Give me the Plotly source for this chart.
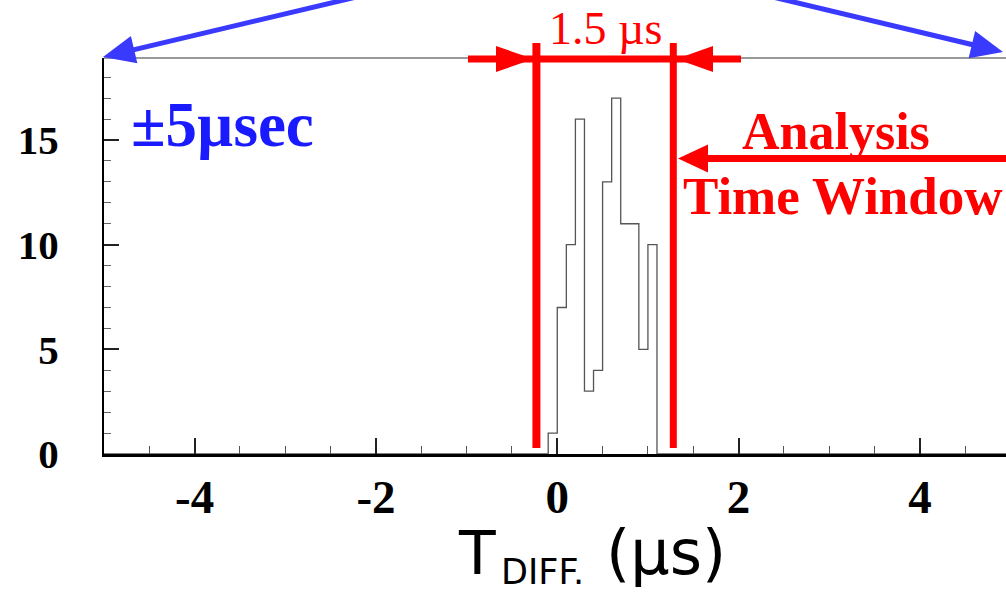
import plotly.graph_objects as go

# ---------------- data ----------------
bin_edges = [-0.1, 0.0, 0.1, 0.2, 0.3, 0.4, 0.5, 0.6, 0.7, 0.8, 0.9, 1.0, 1.1]
bin_counts = [1, 7, 10, 16, 3, 4, 13, 17, 11, 11, 5, 10]
x_range = [-5.0, 4.95]
y_range = [0.0, 18.92]
xtick_vals = [-4, -2, 0, 2, 4]
xtick_text = ["-4", "-2", "0", "2", "4"]
ytick_vals = [0, 5, 10, 15]
ytick_text = ["0", "5", "10", "15"]
window_start = -0.23
window_end = 1.28

# ---------------- layout geometry ----------------
W, H = 1006, 593
ML, MR, MT, MB = 104, 0, 58, 139
PW = W - ML - MR
PH = H - MT - MB

def px(xpix):
    return (xpix - ML) / PW

def py(ypix):
    return (MT + PH - ypix) / PH

def data_to_px(v):
    return ML + (v - x_range[0]) / (x_range[1] - x_range[0]) * PW

# step outline
hx = [x_range[0]] + bin_edges + [x_range[1]]
hy = [0] + bin_counts + [0, 0]

fig = go.Figure()
fig.add_trace(go.Scatter(
    x=hx, y=hy, mode="lines",
    line=dict(color="#555555", width=1.3, shape="hv"),
    hoverinfo="skip", showlegend=False,
))

RED = "#ff0000"
BLUE_T = "#1a1aff"
BLUE_A = "#3a3aff"

shapes = []
annotations = []

def line(x0, y0, x1, y1, color, width):
    shapes.append(dict(type="line", xref="paper", yref="paper",
                       x0=px(x0), y0=py(y0), x1=px(x1), y1=py(y1),
                       line=dict(color=color, width=width), layer="above"))

def tri(p1, p2, p3, color):
    path = "M {} {} L {} {} L {} {} Z".format(px(p1[0]), py(p1[1]), px(p2[0]), py(p2[1]), px(p3[0]), py(p3[1]))
    shapes.append(dict(type="path", xref="paper", yref="paper", path=path,
                       fillcolor=color, line=dict(color=color, width=0), layer="above"))

def arrow(tail, tip, color, width, hl, hw):
    dx, dy = tip[0] - tail[0], tip[1] - tail[1]
    L = (dx * dx + dy * dy) ** 0.5
    ux, uy = dx / L, dy / L
    bx, by = tip[0] - hl * ux, tip[1] - hl * uy
    nx, ny = -uy, ux
    line(tail[0], tail[1], bx + ux * 2, by + uy * 2, color, width)
    tri(tip, (bx + hw * nx, by + hw * ny), (bx - hw * nx, by - hw * ny), color)

# top frame line
line(ML, MT, W, MT, "#777777", 1.5)

# window vertical lines
xl = data_to_px(window_start)
xr = data_to_px(window_end)
line(xl, 448, xl, 43, RED, 8)
line(xr, 448, xr, 43, RED, 7)
# horizontal window bar with inward arrows
line(468, 59, 741, 59, RED, 7)
tri((xl - 3, 59), (496, 46), (496, 72), RED)
tri((xr + 3, 59), (713, 46), (713, 72), RED)
# Analysis arrow
arrow((1010, 158.5), (678, 158.5), RED, 7, 30, 14)
# blue arrows
arrow((555, -50), (103, 57), BLUE_A, 5, 32, 14)
arrow((555, -55), (1003, 52), BLUE_A, 5, 32, 14)

def text(s, x, baseline, size, color, family, bold=False, xanchor="center", desc=0.216):
    ybot = baseline + desc * size + 1
    annotations.append(dict(
        text=s, xref="paper", yref="paper", x=px(x), y=py(ybot),
        xanchor=xanchor, yanchor="bottom", showarrow=False,
        font=dict(family=family, size=size, color=color, weight="bold" if bold else "normal"),
    ))

SERIF = "Liberation Serif"
SANS = "DejaVu Sans"
text("1.5 µs", 605, 45, 46, RED, SERIF)
text("Analysis", 836, 150, 52, RED, SERIF, bold=True)
text("Time Window", 843, 215, 53, RED, SERIF, bold=True)
text("±5µsec", 129, 147, 63, BLUE_T, SERIF, bold=True, xanchor="left")
text("T", 456, 575, 60, "black", SANS, xanchor="left", desc=0.236)
text("DIFF.", 499, 585, 35, "black", SANS, xanchor="left", desc=0.236)
text("(µs)", 604, 575, 62, "black", SANS, xanchor="left", desc=0.236)

fig.update_layout(
    width=W, height=H,
    margin=dict(l=ML, r=MR, t=MT, b=MB),
    paper_bgcolor="white", plot_bgcolor="white",
    shapes=shapes, annotations=annotations,
    xaxis=dict(
        range=x_range, showgrid=False, zeroline=False,
        tickmode="array", tickvals=xtick_vals, ticktext=xtick_text,
        ticks="inside", ticklen=16, tickwidth=1.5, tickcolor="#222222",
        showline=True, linecolor="black", linewidth=2.5,
        minor=dict(dtick=0.5, tick0=0, ticks="inside", ticklen=8, tickwidth=1.2,
                   tickcolor="#555555", showgrid=False),
        tickfont=dict(family=SERIF, size=47, color="black", weight="bold"),
        ticklabelstandoff=0,
    ),
    yaxis=dict(
        range=y_range, showgrid=False, zeroline=False,
        tickmode="array", tickvals=ytick_vals, ticktext=ytick_text,
        ticks="inside", ticklen=15, tickwidth=1.5, tickcolor="#222222",
        showline=True, linecolor="black", linewidth=2,
        minor=dict(dtick=1, tick0=0, ticks="inside", ticklen=7, tickwidth=1.2,
                   tickcolor="#666666", showgrid=False),
        tickfont=dict(family=SERIF, size=41, color="black", weight="bold"),
        ticklabelstandoff=35,
    ),
)

fig.write_html("out.html")
